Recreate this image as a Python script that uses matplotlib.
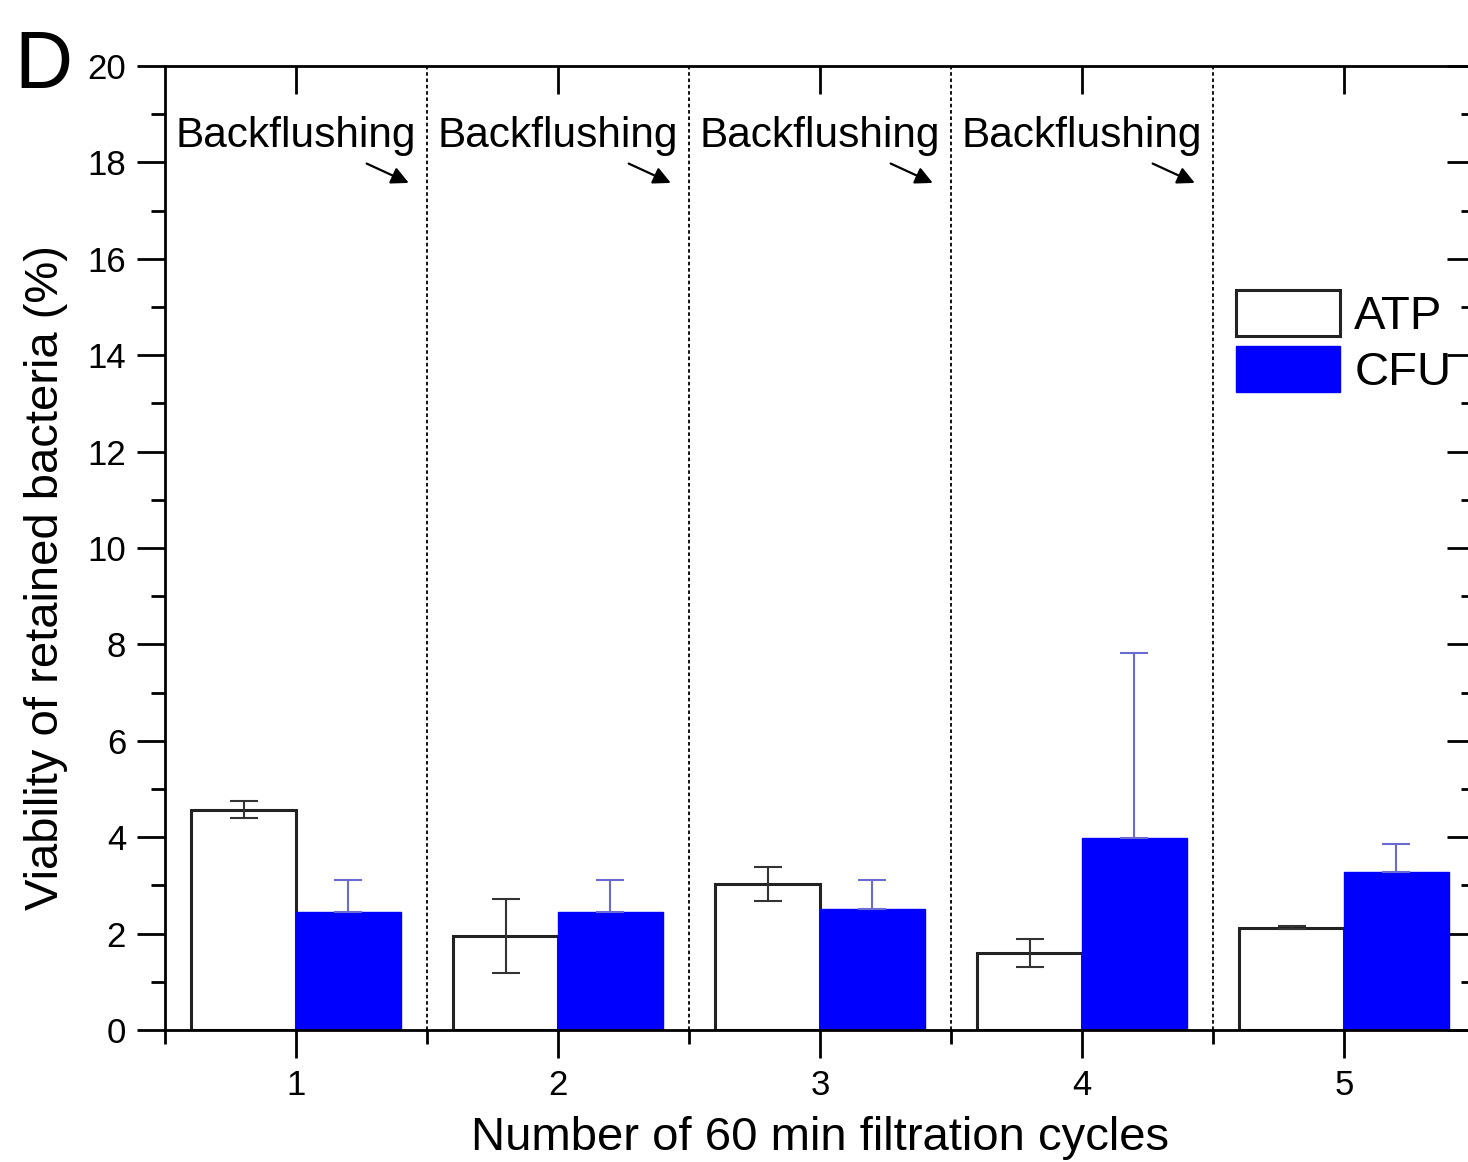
import numpy as np
import matplotlib.pyplot as plt
from matplotlib.ticker import MultipleLocator

plt.rcParams['font.family'] = ['Liberation Sans', 'DejaVu Sans']

# data
cycles = [1, 2, 3, 4, 5]
atp = [4.57, 1.95, 3.03, 1.60, 2.12]
atp_err = [0.18, 0.77, 0.36, 0.29, 0.03]
cfu = [2.45, 2.45, 2.51, 3.98, 3.28]
cfu_err = [0.66, 0.66, 0.60, 3.84, 0.58]
cycle_labels = ['1', '2', '3', '4', '5']
note = 'Backflushing'

fig = plt.figure(figsize=(14.68, 11.62), dpi=100)
ax = fig.add_axes([0.1124, 0.1136, 0.8924, 0.8296])

x = np.array(cycles)
w = 0.4
ax.bar(x - w / 2, atp, w, color='white', edgecolor='#222222', linewidth=2.2, label='ATP', zorder=2)
ax.errorbar(x - w / 2, atp, yerr=atp_err, fmt='none', ecolor='#333333', elinewidth=1.5,
            capsize=10, capthick=1.5, zorder=3)
ax.bar(x + w / 2, cfu, w, color='#0000ff', edgecolor='#0000ff', linewidth=1, label='CFU', zorder=2)
ax.errorbar(x + w / 2, cfu, yerr=[np.zeros(len(cfu)), cfu_err], fmt='none', ecolor='#6a6ad0',
            elinewidth=1.5, capsize=10, capthick=1.5, zorder=3)

# separators and annotations
for c in cycles[:-1]:
    ax.axvline(c + 0.5, color='black', linestyle=(0, (2, 1.5)), linewidth=1.3, zorder=1)
    ax.text(c, 18.55, note, ha='center', va='center', fontsize=30.5)
    ax.annotate('', xy=(c + 0.44, 17.55), xytext=(c + 0.26, 18.0),
                arrowprops=dict(arrowstyle='-|>', color='black', lw=1.6, mutation_scale=26))

ax.set_xlim(0.5, 5.5)
ax.set_ylim(0, 20)
ax.set_xticks(cycles)
ax.set_xticklabels(cycle_labels)
ax.xaxis.set_minor_locator(MultipleLocator(0.5))
ax.yaxis.set_major_locator(MultipleLocator(2))
ax.yaxis.set_minor_locator(MultipleLocator(1))

ax.tick_params(axis='both', which='major', labelsize=25, width=2, length=20, direction='out', pad=8)
ax.tick_params(axis='both', which='minor', width=2, length=10, direction='out')
ax.tick_params(top=True, right=True, which='both')

# top and right ticks point inward
for tl in ax.xaxis.get_majorticklines()[1::2]:
    tl.set_marker(3)
for tl in ax.xaxis.get_minorticklines()[1::2]:
    tl.set_visible(False)
for tl in ax.yaxis.get_majorticklines()[1::2]:
    tl.set_marker(0)
for tl in ax.yaxis.get_minorticklines()[1::2]:
    tl.set_marker(0)

for s in ax.spines.values():
    s.set_linewidth(2)

ax.set_xlabel('Number of 60 min filtration cycles', fontsize=34, labelpad=10)
ax.set_ylabel('Viability of retained bacteria (%)', fontsize=34)
ax.yaxis.set_label_coords(-0.074, 0.469)

ax.legend(loc='upper left', bbox_to_anchor=(0.8176, 0.7676), frameon=False, fontsize=34,
          handlelength=2.2, handleheight=1.12, handletextpad=0.3, labelspacing=0.14,
          borderaxespad=0, borderpad=0)

fig.text(0.01, 0.975, 'D', fontsize=58, va='top', ha='left')

fig.savefig('out.png', dpi=100)
